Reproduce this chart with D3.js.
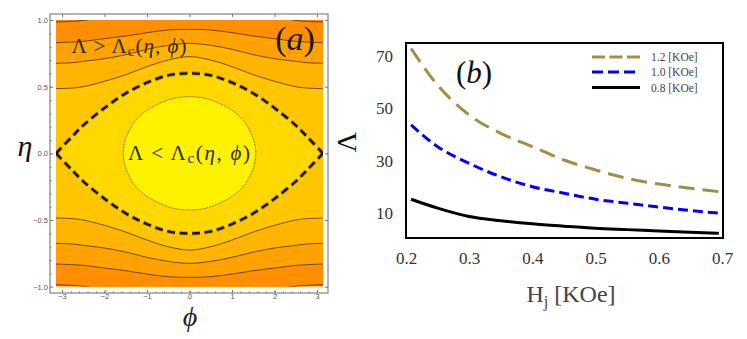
<!DOCTYPE html>
<html>
<head>
<meta charset="utf-8">
<script src="https://cdn.jsdelivr.net/npm/d3@7"></script>
<style>
  body { margin: 0; background: #fff; }
  svg { display: block; }
</style>
</head>
<body>
<svg id="chart" width="747" height="339"></svg>
<script>
// ---- panel (a): contour lines (upper half, mirrored below)
const phiGrid = [-3.1416, -2.75, -2.5, -2, -1.5, -1, -0.5, 0, 0.5, 1, 1.5, 2, 2.5, 2.75, 3.1416];
const contourA = [0.985, 0.99, 0.997, 1.02, 1.045, 1.065, 1.08, 1.085, 1.08, 1.065, 1.045, 1.02, 0.997, 0.99, 0.985];
const contourB = [0.83, 0.835, 0.84, 0.86, 0.88, 0.905, 0.925, 0.93, 0.925, 0.905, 0.88, 0.86, 0.84, 0.835, 0.83];
const contourC = [0.675, 0.68, 0.69, 0.71, 0.74, 0.78, 0.81, 0.825, 0.81, 0.78, 0.74, 0.71, 0.69, 0.68, 0.675];
const contourD = [0.485, 0.49, 0.5, 0.54, 0.59, 0.65, 0.70, 0.725, 0.70, 0.65, 0.59, 0.54, 0.5, 0.49, 0.485];
const separatrix = [0, 0.13, 0.21, 0.34, 0.45, 0.53, 0.585, 0.6, 0.585, 0.53, 0.45, 0.34, 0.21, 0.13, 0];
const ovalPhi = [-1.56, -1.52, -1.45, -1.3, -1.1, -0.8, -0.4, 0, 0.4, 0.8, 1.1, 1.3, 1.45, 1.52, 1.56];
const ovalEta = [0, 0.09, 0.15, 0.235, 0.3, 0.36, 0.41, 0.425, 0.41, 0.36, 0.3, 0.235, 0.15, 0.09, 0];
const bandColors = ['#ff8400', '#ff8f00', '#ffa200', '#ffb400', '#ffc600', '#ffd800', '#fff200'];
const phiTicks = [-3, -2, -1, 0, 1, 2, 3];
const etaTicks = [-1, -0.5, 0, 0.5, 1];

// ---- panel (b)
const hField = [0.208, 0.25, 0.3, 0.35, 0.4, 0.45, 0.5, 0.55, 0.6, 0.65, 0.695];
const lambda12 = [72.9, 58.9, 47.5, 40.5, 35.4, 30.3, 26.5, 23.3, 21.1, 19.5, 18.2];
const lambda10 = [43.7, 35.4, 29.0, 23.9, 20.1, 17.6, 15.3, 13.8, 12.3, 11.0, 10.0];
const lambda08 = [15.3, 11.9, 8.7, 7.1, 5.9, 5.0, 4.2, 3.7, 3.2, 2.7, 2.3];
const seriesNames = ['1.2 [KOe]', '1.0 [KOe]', '0.8 [KOe]'];
const hTicks = [0.2, 0.3, 0.4, 0.5, 0.6, 0.7];
const lambdaTicks = [10, 30, 50, 70];

const svg = d3.select('#chart');
const serif = '"Liberation Serif", "Times New Roman", serif';

/* ================= panel (a) ================= */
const xa = d3.scaleLinear().domain([-Math.PI, Math.PI]).range([56, 323]);
const ya = d3.scaleLinear().domain([-1, 1]).range([286.7, 20]);

const ga = svg.append('g');
ga.append('rect')
    .attr('x', 50).attr('y', 14).attr('width', 278).attr('height', 279)
    .attr('fill', '#fff').attr('stroke', '#8c8c8c').attr('stroke-width', 1.3);

ga.append('clipPath').attr('id', 'clipA')
  .append('rect')
    .attr('x', xa.range()[0]).attr('y', ya.range()[1])
    .attr('width', xa.range()[1] - xa.range()[0])
    .attr('height', ya.range()[0] - ya.range()[1]);

const plotA = ga.append('g').attr('clip-path', 'url(#clipA)');
plotA.append('rect')
    .attr('x', 56).attr('y', 20).attr('width', 267).attr('height', 266.7)
    .attr('fill', bandColors[0]);

const bandArea = d3.area()
    .x((d, i) => xa(phiGrid[i]))
    .y0(d => ya(-d))
    .y1(d => ya(d))
    .curve(d3.curveCatmullRom);

const contours = [contourA, contourB, contourC, contourD, separatrix];
contours.forEach((c, k) => {
  plotA.append('path').datum(c)
      .attr('d', bandArea)
      .attr('fill', bandColors[k + 1]);
});

// closed oval in the centre
const ovalPts = ovalPhi.map((p, i) => [p, ovalEta[i]])
    .concat(ovalPhi.slice(1, -1).map((p, i) => [p, -ovalEta[i + 1]]).reverse());
const ovalLine = d3.line()
    .x(d => xa(d[0])).y(d => ya(d[1]))
    .curve(d3.curveCatmullRomClosed);
plotA.append('path').datum(ovalPts)
    .attr('d', ovalLine)
    .attr('fill', bandColors[6])
    .attr('stroke', '#6b5a00').attr('stroke-width', 0.8)
    .attr('stroke-dasharray', '2,1');

// thin contour lines
[contourA, contourB, contourC, contourD].forEach(c => {
  [1, -1].forEach(s => {
    plotA.append('path').datum(c)
        .attr('d', d3.line().x((d, i) => xa(phiGrid[i])).y(d => ya(s * d)).curve(d3.curveCatmullRom))
        .attr('fill', 'none').attr('stroke', '#2a1a00')
        .attr('stroke-width', 0.8).attr('stroke-opacity', 0.85);
  });
});

// dashed separatrix
[1, -1].forEach(s => {
  const sepLine = d3.line().x((d, i) => xa(phiGrid[i])).y(d => ya(s * d)).curve(d3.curveCatmullRom);
  plotA.append('path').datum(separatrix)
      .attr('d', sepLine)
      .attr('fill', 'none').attr('stroke', '#000').attr('stroke-opacity', 0.2)
      .attr('stroke-width', 4.5).attr('stroke-dasharray', '8,4.5');
  plotA.append('path').datum(separatrix)
      .attr('d', sepLine)
      .attr('fill', 'none').attr('stroke', '#111')
      .attr('stroke-width', 2.4).attr('stroke-dasharray', '8,4.5');
});

// frame ticks
const tickStyle = g => {
  g.select('.domain').remove();
  g.selectAll('line').attr('stroke', '#777');
  g.selectAll('text').attr('fill', '#555')
      .attr('font-family', '"Liberation Sans", Arial, sans-serif').attr('font-size', 7.5);
};
ga.append('g').attr('transform', 'translate(50,0)')
    .call(d3.axisLeft(ya).tickValues(etaTicks).tickFormat(d3.format('.1f')).tickSize(-3).tickPadding(2))
    .call(tickStyle);
ga.append('g').attr('transform', 'translate(50,0)')
    .call(d3.axisLeft(ya).tickValues(d3.range(-0.9, 1, 0.1)).tickFormat('').tickSize(-1.5))
    .call(tickStyle);
ga.append('g').attr('transform', 'translate(328,0)')
    .call(d3.axisRight(ya).tickValues(etaTicks).tickFormat('').tickSize(-3))
    .call(tickStyle);
ga.append('g').attr('transform', 'translate(0,293)')
    .call(d3.axisBottom(xa).tickValues(phiTicks).tickFormat(d3.format('d')).tickSize(-3).tickPadding(1))
    .call(tickStyle);
ga.append('g').attr('transform', 'translate(0,293)')
    .call(d3.axisBottom(xa).tickValues(d3.range(-3, 3.1, 0.2)).tickFormat('').tickSize(-1.5))
    .call(tickStyle);
ga.append('g').attr('transform', 'translate(0,14)')
    .call(d3.axisTop(xa).tickValues(phiTicks).tickFormat('').tickSize(-3))
    .call(tickStyle);

// labels in panel (a)
function mathLabel(g, x, y, rel, size, anchor, len) {
  const t = g.append('text')
      .attr('x', x).attr('y', y)
      .attr('font-family', serif).attr('font-size', size)
      .attr('fill', '#2b2b2b').attr('text-anchor', anchor)
      .attr('textLength', len).attr('lengthAdjust', 'spacing');
  t.append('tspan').text('Λ ' + rel + ' Λ');
  t.append('tspan').attr('font-size', size * 0.72).attr('dy', 3).text('c');
  t.append('tspan').attr('dy', -3).text('(');
  t.append('tspan').attr('font-style', 'italic').text('η');
  t.append('tspan').text(', ');
  t.append('tspan').attr('font-style', 'italic').text('ϕ');
  t.append('tspan').text(')');
}
mathLabel(ga, 71.5, 53, '>', 21, 'start', 115);
mathLabel(ga, 189, 160, '<', 21, 'middle', 122);

const labA = ga.append('text')
    .attr('x', 295).attr('y', 50).attr('text-anchor', 'middle')
    .attr('font-family', serif).attr('font-size', 34).attr('fill', '#1a1a1a');
labA.append('tspan').text('(');
labA.append('tspan').attr('font-style', 'italic').text('a');
labA.append('tspan').text(')');

ga.append('text')
    .attr('x', 25).attr('y', 156).attr('text-anchor', 'middle')
    .attr('font-family', serif).attr('font-style', 'italic')
    .attr('font-size', 30).attr('fill', '#111').text('η');
ga.append('text')
    .attr('x', 190).attr('y', 326).attr('text-anchor', 'middle')
    .attr('font-family', serif).attr('font-style', 'italic')
    .attr('font-size', 28).attr('fill', '#222').text('ϕ');

/* ================= panel (b) ================= */
const xb = d3.scaleLinear().domain([0.2, 0.7]).range([406, 722]);
const yb = d3.scaleLinear().domain([0.5, 75]).range([238, 43]);
const gb = svg.append('g');

const axisStyleB = g => {
  g.select('.domain').remove();
  g.selectAll('text').attr('font-family', serif).attr('font-size', 17).attr('fill', '#333');
};
gb.append('g').attr('transform', 'translate(0,238)')
    .call(d3.axisBottom(xb).tickValues(hTicks).tickFormat(d3.format('.1f')).tickSize(0).tickPadding(14))
    .call(axisStyleB);
gb.append('g').attr('transform', 'translate(406,0)')
    .call(d3.axisLeft(yb).tickValues(lambdaTicks).tickSize(0).tickPadding(13))
    .call(axisStyleB);

const series = [
  { name: seriesNames[0], values: lambda12, color: '#a08f45', dash: '16,8' },
  { name: seriesNames[1], values: lambda10, color: '#0000ff', dash: '10,5' },
  { name: seriesNames[2], values: lambda08, color: '#000000', dash: null }
];
const lineB = d3.line()
    .x((d, i) => xb(hField[i]))
    .y(d => yb(d))
    .curve(d3.curveMonotoneX);

series.forEach(s => {
  gb.append('path').datum(s.values)
      .attr('d', lineB)
      .attr('fill', 'none').attr('stroke', s.color)
      .attr('stroke-width', 3)
      .attr('stroke-dasharray', s.dash);
});

gb.append('rect')
    .attr('x', 406).attr('y', 43).attr('width', 317).attr('height', 195)
    .attr('fill', 'none').attr('stroke', '#000').attr('stroke-width', 2);

// legend
const legY = [57, 72, 87.5];
const legDash = ['13,4.5', '11,5', null];
series.forEach((s, i) => {
  gb.append('line')
      .attr('x1', 592).attr('x2', 640).attr('y1', legY[i]).attr('y2', legY[i])
      .attr('stroke', s.color).attr('stroke-width', 3)
      .attr('stroke-dasharray', legDash[i]);
  gb.append('text')
      .attr('x', 651).attr('y', legY[i]).attr('dy', '0.35em')
      .attr('font-family', serif).attr('font-size', 11.5).attr('fill', '#444')
      .text(s.name);
});

const labB = gb.append('text')
    .attr('x', 474).attr('y', 83).attr('text-anchor', 'middle')
    .attr('font-family', serif).attr('font-size', 31).attr('fill', '#111');
labB.append('tspan').text('(');
labB.append('tspan').attr('font-style', 'italic').text('b');
labB.append('tspan').text(')');

gb.append('text')
    .attr('transform', 'translate(356,142) rotate(-90)')
    .attr('text-anchor', 'middle')
    .attr('font-family', serif).attr('font-size', 28).attr('fill', '#111')
    .text('Λ');

const xlab = gb.append('text')
    .attr('x', 571).attr('y', 302).attr('text-anchor', 'middle')
    .attr('font-family', serif).attr('font-size', 24).attr('fill', '#444');
xlab.append('tspan').text('H');
xlab.append('tspan').attr('font-size', 16).attr('dy', 5).text('j');
xlab.append('tspan').attr('dy', -5).text(' [KOe]');
</script>
</body>
</html>
